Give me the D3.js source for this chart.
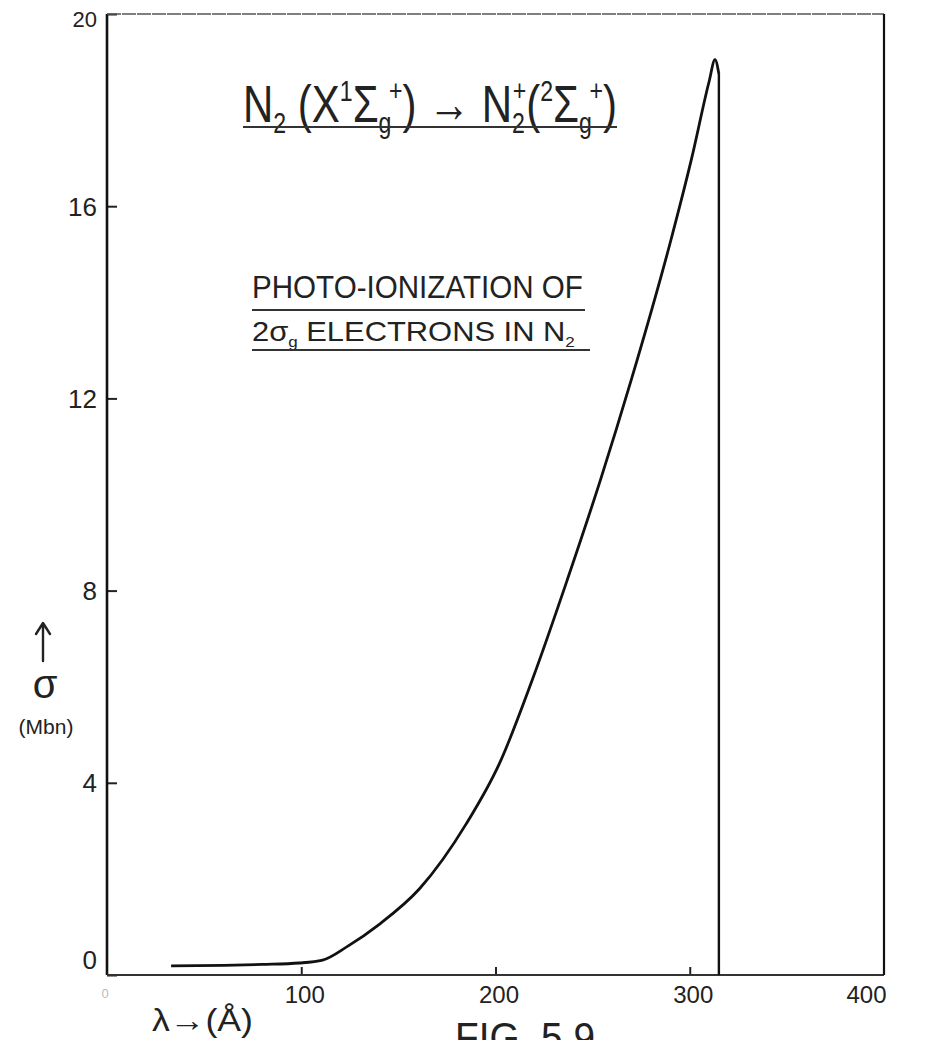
<!DOCTYPE html>
<html>
<head>
<meta charset="utf-8">
<script src="https://cdn.jsdelivr.net/npm/d3@7"></script>
<style>
  body { margin: 0; background: #fff; }
  text { font-family: "Liberation Sans", "DejaVu Sans", sans-serif; fill: #222; }
</style>
</head>
<body>
<div id="chart"></div>
<script>
// data: wavelength (Angstrom) vs cross section (Mb)
const lambdaVals = [33, 60, 80, 99, 111, 124, 140, 161, 185, 202, 219, 237, 254, 270, 290, 301, 310, 313, 315];
const sigmaVals  = [0.19, 0.2, 0.22, 0.25, 0.31, 0.6, 1.05, 1.8, 3.15, 4.4, 6.15, 8.23, 10.3, 12.4, 15.25, 17.0, 18.6, 19.05, 18.75];
const edgeLambda = 315;   // threshold, curve drops to zero here
const yTicks = [0, 4, 8, 12, 16, 20];
const xTicks = [100, 200, 300, 400];

// layout
const W = 927, H = 1040;
const margin = { top: 14, right: 43, bottom: 65, left: 107 };
const cw = W - margin.left - margin.right;
const ch = H - margin.top - margin.bottom;

const svg = d3.select("#chart").append("svg")
    .attr("width", W)
    .attr("height", H);

const g = svg.append("g")
    .attr("transform", "translate(" + margin.left + "," + margin.top + ")");

const x = d3.scaleLinear().domain([0, 400]).range([0, cw]);
const y = d3.scaleLinear().domain([0, 20]).range([ch, 0]);

// y axis, ticks point inward
const yAxisG = g.append("g")
    .call(d3.axisLeft(y).tickValues(yTicks).tickSizeInner(-10).tickSizeOuter(0).tickPadding(10));
yAxisG.select(".domain").remove();
yAxisG.selectAll(".tick line").attr("stroke", "#222").attr("stroke-width", 2);
yAxisG.selectAll(".tick text")
    .style("font-size", "26px")
    .attr("fill", "#222")
    .attr("dy", d => d === 0 ? "-0.25em" : (d === 20 ? "0.55em" : "0.34em"))
    .filter(d => d === 20).style("font-size", "22px");

// x axis
const xAxisG = g.append("g")
    .attr("transform", "translate(0," + ch + ")")
    .call(d3.axisBottom(x).tickValues(xTicks).tickSizeInner(-8).tickSizeOuter(0).tickPadding(11));
xAxisG.select(".domain").remove();
xAxisG.selectAll(".tick line").attr("stroke", "#222").attr("stroke-width", 2)
    .filter(d => d === 400).remove();
xAxisG.selectAll(".tick text")
    .style("font-size", "24px")
    .attr("fill", d => d === 200 ? "#888" : "#222")
    .attr("dx", d => d === 400 ? -18 : 3);

// frame
g.append("line").attr("x1", x(0)).attr("x2", x(0)).attr("y1", y(20)).attr("y2", y(0))
    .attr("stroke", "#111").attr("stroke-width", 2.6);
g.append("line").attr("x1", x(0)).attr("x2", x(400)).attr("y1", y(0)).attr("y2", y(0))
    .attr("stroke", "#333").attr("stroke-width", 1.8);
g.append("line").attr("x1", x(0)).attr("x2", x(400)).attr("y1", y(20)).attr("y2", y(20))
    .attr("stroke", "#555").attr("stroke-width", 1.6).attr("stroke-dasharray", "14,1");
g.append("line").attr("x1", x(400)).attr("x2", x(400)).attr("y1", y(20)).attr("y2", y(0))
    .attr("stroke", "#111").attr("stroke-width", 2.2);

// curve
const pts = lambdaVals.map((l, i) => [l, sigmaVals[i]]);
const line = d3.line()
    .x(d => x(d[0]))
    .y(d => y(d[1]))
    .curve(d3.curveMonotoneX);
g.append("path")
    .datum(pts)
    .attr("fill", "none")
    .attr("stroke", "#111")
    .attr("stroke-width", 2.8)
    .attr("stroke-linejoin", "round")
    .attr("d", line);

// drop to zero at the threshold
g.append("line")
    .attr("x1", x(edgeLambda)).attr("x2", x(edgeLambda))
    .attr("y1", y(sigmaVals[sigmaVals.length - 1])).attr("y2", y(0))
    .attr("stroke", "#111").attr("stroke-width", 2.4);

// text with sub / superscripts, squeezed to a target width
function richText(parts, x0, base, width, size) {
    const t = svg.append("text").attr("x", 0).attr("y", 0).style("font-size", size + "px");
    let shift = 0;
    parts.forEach(p => {
        const kind = p[1] || "n";
        const target = kind === "sub" ? size * 0.22 : kind === "sup" ? -size * 0.4 : 0;
        const ts = t.append("tspan")
            .attr("dy", target - shift)
            .style("font-size", (kind === "n" ? size : size * 0.55) + "px")
            .text(p[0]);
        if (p[2]) ts.attr("dx", p[2]);
        shift = target;
    });
    const bb = t.node().getBBox();
    const sx = width / bb.width;
    t.attr("transform", "translate(" + (x0 - bb.x * sx) + "," + base + ") scale(" + sx + ",1)");
    return t;
}

function underline(x1, x2, yy) {
    svg.append("line").attr("x1", x1).attr("x2", x2).attr("y1", yy).attr("y2", yy)
        .attr("stroke", "#333").attr("stroke-width", 2);
}

// title
richText([["N"], ["2", "sub"], [" (X"], ["1", "sup"], ["Σ"], ["g", "sub"], ["+", "sup", -3], [")"],
          [" → "], ["N"], ["2", "sub"], ["+", "sup", -15], ["("], ["2", "sup"], ["Σ"], ["g", "sub"], ["+", "sup", -3], [")"]],
    243, 122, 374, 52);
underline(243, 617, 127);

// annotation
richText([["PHOTO-IONIZATION OF"]], 252, 298, 331, 32);
underline(252, 585, 310);
richText([["2σ"], ["g", "sub"], [" ELECTRONS IN N"], ["2", "sub"]], 252, 341, 323, 28);
underline(252, 590, 350);

// y label: arrow drawn as a path, then symbol and unit
svg.append("path")
    .attr("d", "M43,661 L43,625 M36,634 L43,623 L50,634")
    .attr("fill", "none").attr("stroke", "#222").attr("stroke-width", 2.4)
    .attr("stroke-linecap", "round").attr("stroke-linejoin", "round");
svg.append("text").attr("x", 45).attr("y", 698).attr("text-anchor", "middle")
    .style("font-size", "40px").text("σ");
svg.append("text").attr("x", 46).attr("y", 734).attr("text-anchor", "middle")
    .style("font-size", "21px").text("(Mbn)");

// x label
richText([["λ→(Å)"]], 152, 1031, 101, 32);

// faint origin mark
svg.append("text").attr("x", 105).attr("y", 998).attr("text-anchor", "middle")
    .style("font-size", "13px").style("fill", "#bbb").text("0");

// figure caption, cut by the page edge
richText([["FIG. 5.9"]], 455, 1052, 140, 42);
</script>
</body>
</html>
